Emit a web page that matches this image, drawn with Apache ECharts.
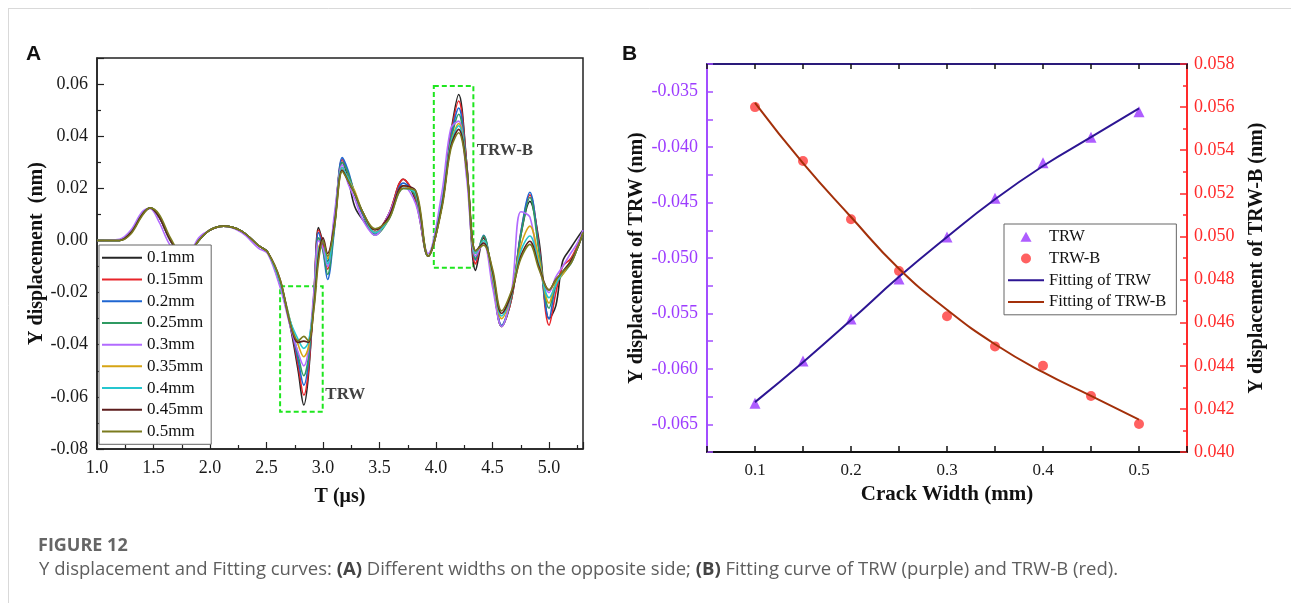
<!DOCTYPE html>
<html>
<head>
<meta charset="utf-8">
<script src="https://cdn.jsdelivr.net/npm/echarts@6/dist/echarts.min.js"></script>
<style>
  html, body { margin: 0; padding: 0; background: #fff; }
  #main { width: 1291px; height: 603px; }
</style>
</head>
<body>
<div id="main"></div>
<script>
// ------------------------------------------------------
// Data, panel A (Y displacement vs time, one curve per crack width)
// ------------------------------------------------------
var widthNames = ['0.1mm', '0.15mm', '0.2mm', '0.25mm', '0.3mm', '0.35mm', '0.4mm', '0.45mm', '0.5mm']
var widthColors = ['#262626', '#e8242a', '#1f66d1', '#2f9a62', '#b26bff', '#d6a414', '#25c6cf', '#5c1c1c', '#7b7b1e']

var T = [1.0, 1.2, 1.3, 1.4, 1.47, 1.55, 1.65, 1.78, 1.9, 2.0, 2.12, 2.28, 2.43, 2.51, 2.62, 2.71, 2.78, 2.83, 2.87, 2.92,
  2.96, 3.0, 3.04, 3.1, 3.17, 3.22, 3.28, 3.35, 3.46, 3.58, 3.71, 3.82, 3.93, 4.05, 4.13, 4.2, 4.27, 4.35, 4.42, 4.5,
  4.58, 4.67, 4.75, 4.83, 4.91, 5.0, 5.06, 5.12, 5.19, 5.25, 5.3]

var w010 = [0, 0, 0.003, 0.010, 0.0125, 0.009, 0.000, -0.007, 0.000, 0.004, 0.0055, 0.0036, -0.002, -0.0045, -0.017, -0.033, -0.050, -0.0631, -0.052, -0.020,
  0.005, -0.001, -0.008, 0.008, 0.030, 0.024, 0.013, 0.008, 0.003, 0.010, 0.0235, 0.015, -0.006, 0.014, 0.041, 0.0560, 0.030, -0.0115, 0.001, -0.015,
  -0.033, -0.022, 0.002, 0.015, 0.000, -0.030, -0.025, -0.008, -0.003, 0.001, 0.004]
var w015 = [0, 0, 0.003, 0.010, 0.0125, 0.009, 0.000, -0.007, 0.000, 0.004, 0.0055, 0.0036, -0.002, -0.0045, -0.017, -0.032, -0.048, -0.0593, -0.050, -0.021,
  0.004, -0.002, -0.011, 0.006, 0.031, 0.026, 0.018, 0.010, 0.003, 0.010, 0.0235, 0.016, -0.006, 0.013, 0.040, 0.0535, 0.030, -0.009, 0.0015, -0.015,
  -0.033, -0.022, 0.003, 0.0175, -0.002, -0.0325, -0.020, -0.010, -0.007, -0.002, 0.003]
var w020 = [0, 0, 0.003, 0.010, 0.0125, 0.009, 0.000, -0.007, 0.000, 0.004, 0.0055, 0.0036, -0.002, -0.0045, -0.017, -0.032, -0.046, -0.0555, -0.047, -0.021,
  0.003, -0.004, -0.015, 0.004, 0.0318, 0.027, 0.018, 0.010, 0.0025, 0.009, 0.022, 0.017, -0.006, 0.013, 0.039, 0.0508, 0.029, -0.0075, 0.002, -0.015,
  -0.0325, -0.021, 0.003, 0.0185, -0.003, -0.030, -0.017, -0.012, -0.009, -0.003, 0.003]
var w025 = [0, 0, 0.003, 0.010, 0.0125, 0.0095, 0.000, -0.007, 0.000, 0.004, 0.0055, 0.0036, -0.002, -0.0045, -0.016, -0.031, -0.044, -0.0519, -0.045, -0.022,
  0.001, -0.004, -0.013, 0.005, 0.030, 0.026, 0.018, 0.011, 0.002, 0.008, 0.021, 0.017, -0.006, 0.013, 0.038, 0.0484, 0.028, -0.007, 0.0018, -0.015,
  -0.033, -0.021, 0.002, 0.0165, -0.004, -0.026, -0.017, -0.013, -0.009, -0.003, 0.003]
var w030 = [0, 0.0005, 0.004, 0.011, 0.0122, 0.007, -0.002, -0.007, 0.001, 0.004, 0.0055, 0.003, -0.003, -0.005, -0.018, -0.033, -0.043, -0.0481, -0.042, -0.019,
  0.000, -0.003, -0.010, 0.010, 0.029, 0.022, 0.016, 0.008, 0.002, 0.010, 0.021, 0.014, -0.005, 0.018, 0.043, 0.0458, 0.024, -0.006, -0.001, -0.018,
  -0.033, -0.019, 0.011, 0.009, -0.010, -0.020, -0.014, -0.010, -0.005, -0.001, 0.004]
var w035 = [0, 0, 0.003, 0.010, 0.0125, 0.009, 0.000, -0.007, 0.000, 0.004, 0.0055, 0.0036, -0.002, -0.0045, -0.016, -0.031, -0.040, -0.0446, -0.041, -0.023,
  -0.003, 0.000, -0.007, 0.006, 0.028, 0.024, 0.019, 0.011, 0.003, 0.008, 0.021, 0.018, -0.006, 0.013, 0.037, 0.0449, 0.028, -0.005, 0.000, -0.014,
  -0.030, -0.020, -0.002, 0.0055, -0.007, -0.024, -0.016, -0.013, -0.008, -0.003, 0.003]
var w040 = [0, 0, 0.003, 0.010, 0.0125, 0.009, 0.000, -0.007, 0.000, 0.004, 0.0055, 0.0036, -0.002, -0.0045, -0.016, -0.031, -0.038, -0.0414, -0.039, -0.024,
  -0.004, 0.000, -0.009, 0.006, 0.028, 0.024, 0.018, 0.011, 0.003, 0.008, 0.020, 0.018, -0.006, 0.014, 0.037, 0.0440, 0.028, -0.005, 0.000, -0.013,
  -0.029, -0.020, -0.004, 0.0017, -0.009, -0.022, -0.017, -0.012, -0.008, -0.003, 0.003]
var w045 = [0, 0, 0.003, 0.010, 0.0125, 0.009, 0.000, -0.007, 0.000, 0.004, 0.0055, 0.0036, -0.002, -0.0045, -0.015, -0.032, -0.0391, -0.0386, -0.0391, -0.025,
  -0.006, 0.001, -0.005, 0.006, 0.027, 0.023, 0.018, 0.011, 0.004, 0.009, 0.021, 0.019, -0.006, 0.013, 0.036, 0.0426, 0.028, -0.004, -0.001, -0.012,
  -0.028, -0.020, -0.006, -0.0003, -0.010, -0.019, -0.015, -0.012, -0.008, -0.003, 0.003]
var w050 = [0, 0, 0.0025, 0.0095, 0.0125, 0.010, 0.001, -0.007, 0.000, 0.004, 0.0055, 0.0036, -0.002, -0.0045, -0.015, -0.032, -0.0385, -0.0368, -0.0385, -0.026,
  -0.008, 0.000, -0.006, 0.005, 0.0265, 0.023, 0.018, 0.011, 0.0045, 0.008, 0.020, 0.019, -0.006, 0.012, 0.035, 0.0413, 0.027, -0.004, -0.0018, -0.011,
  -0.027, -0.019, -0.007, -0.0015, -0.011, -0.019, -0.015, -0.012, -0.009, -0.003, 0.003]
var widthValues = [w010, w015, w020, w025, w030, w035, w040, w045, w050]

// dashed boxes and their labels: [t, y] corners
var boxTRW = [[2.62, -0.0176], [2.997, -0.0657]]
var boxTRWB = [[3.98, 0.0593], [4.33, -0.0105]]
var notes = [[3.02, -0.0590, 'TRW'], [4.36, 0.0343, 'TRW-B']]

// ------------------------------------------------------
// Data, panel B (peak values vs crack width)
// ------------------------------------------------------
var crackWidth = [0.1, 0.15, 0.2, 0.25, 0.3, 0.35, 0.4, 0.45, 0.5]
var trw = [-0.0631, -0.0593, -0.0555, -0.0519, -0.0481, -0.0446, -0.0414, -0.0391, -0.0368]
var trwB = [0.0560, 0.0535, 0.0508, 0.0484, 0.0463, 0.0449, 0.0440, 0.0426, 0.0413]
var fitTRW = [-0.0630, -0.0594, -0.0556, -0.0517, -0.0481, -0.0447, -0.0417, -0.0391, -0.0365]
var fitTRWB = [0.0562, 0.0534, 0.0509, 0.0485, 0.0466, 0.0450, 0.0437, 0.0426, 0.0415]

// ------------------------------------------------------
// Helpers
// ------------------------------------------------------
var serif = 'Liberation Serif'
var lineIconA = 'path://M0,0 L40,0 L40,2 L0,2 Z'
var lineIconB = 'path://M0,0 L36,0 L36,2 L0,2 Z'
var triIcon = 'path://M5,0 L10,9 L0,9 Z'

function pairs(xs, ys) {
  return xs.map(function (x, i) { return [x, ys[i]] })
}

function onStep(v, step) {
  var k = v / step
  return Math.abs(k - Math.round(k)) < 1e-6
}

// ------------------------------------------------------
// Series
// ------------------------------------------------------
var series = []

for (var i = 0; i < widthNames.length; i++) {
  series.push({
    name: widthNames[i],
    type: 'line',
    xAxisIndex: 0,
    yAxisIndex: 0,
    data: pairs(T, widthValues[i]),
    smooth: 0.35,
    symbol: 'none',
    showSymbol: false,
    color: widthColors[i],
    lineStyle: { width: 1.6, color: widthColors[i] },
    z: 3
  })
}

// green dashed boxes
series.push({
  name: 'boxes',
  type: 'line',
  xAxisIndex: 0,
  yAxisIndex: 0,
  data: [],
  silent: true,
  markArea: {
    silent: true,
    itemStyle: { color: 'rgba(0,0,0,0)', borderColor: '#1ee61e', borderWidth: 2, borderType: [5, 3] },
    label: { show: false },
    data: [
      [{ coord: boxTRW[0] }, { coord: boxTRW[1] }],
      [{ coord: boxTRWB[0] }, { coord: boxTRWB[1] }]
    ]
  }
})

series.push({
  name: 'notes',
  type: 'scatter',
  xAxisIndex: 0,
  yAxisIndex: 0,
  data: notes,
  symbolSize: 0,
  silent: true,
  label: {
    show: true,
    position: 'right',
    distance: 0,
    formatter: function (p) { return p.value[2] },
    fontFamily: serif,
    fontWeight: 'bold',
    fontSize: 17,
    color: '#111'
  }
})

series.push({
  name: 'TRW',
  type: 'scatter',
  xAxisIndex: 1,
  yAxisIndex: 1,
  data: pairs(crackWidth, trw),
  symbol: 'triangle',
  symbolSize: 11,
  color: '#9a34ff',
  itemStyle: { color: '#9a34ff' }
})
series.push({
  name: 'TRW-B',
  type: 'scatter',
  xAxisIndex: 1,
  yAxisIndex: 2,
  data: pairs(crackWidth, trwB),
  symbol: 'circle',
  symbolSize: 10,
  color: '#ff3a3a',
  itemStyle: { color: '#ff3a3a' }
})
series.push({
  name: 'Fitting of TRW',
  type: 'line',
  xAxisIndex: 1,
  yAxisIndex: 1,
  data: pairs(crackWidth, fitTRW),
  smooth: true,
  symbol: 'none',
  showSymbol: false,
  color: '#2c1593',
  lineStyle: { width: 2, color: '#2c1593' }
})
series.push({
  name: 'Fitting of TRW-B',
  type: 'line',
  xAxisIndex: 1,
  yAxisIndex: 2,
  data: pairs(crackWidth, fitTRWB),
  smooth: true,
  symbol: 'none',
  showSymbol: false,
  color: '#a3300a',
  lineStyle: { width: 2, color: '#a3300a' }
})

// ------------------------------------------------------
// Options
// ------------------------------------------------------
var tickLabel = { fontFamily: serif, fontSize: 18, color: '#1a1a1a' }
var axisName = { fontFamily: serif, fontSize: 20, fontWeight: 'bold', color: '#111' }

var option = {
  backgroundColor: '#fff',
  animation: false,
  grid: [
    { left: 97, top: 58, width: 486, height: 391, show: true, borderColor: '#222', borderWidth: 1.5, backgroundColor: 'rgba(0,0,0,0)', containLabel: false },
    { left: 707, top: 64, width: 480, height: 388, show: false, containLabel: false }
  ],
  xAxis: [
    {
      gridIndex: 0, type: 'value', min: 1.0, max: 5.3, interval: 0.5,
      axisLine: { show: true, onZero: false, lineStyle: { color: '#222', width: 1.5 } },
      axisTick: { show: true, inside: true, length: 7, lineStyle: { color: '#222', width: 1.2 } },
      minorTick: { show: true, splitNumber: 2, length: 4, lineStyle: { color: '#222', width: 1.2 } },
      splitLine: { show: false }, minorSplitLine: { show: false },
      axisLabel: Object.assign({ margin: 10, showMaxLabel: false, formatter: function (v) { return v.toFixed(1) } }, tickLabel),
      name: 'T (μs)', nameLocation: 'middle', nameGap: 38, nameTextStyle: axisName
    },
    {
      gridIndex: 1, type: 'value', min: 0.05, max: 0.55, interval: 0.05, position: 'bottom',
      axisLine: { show: true, onZero: false, lineStyle: { color: '#111', width: 2 } },
      axisTick: { show: true, inside: true, length: 6, lineStyle: { color: '#111', width: 1.5 } },
      splitLine: { show: false },
      axisLabel: Object.assign({ margin: 10, formatter: function (v) { return onStep(v, 0.1) ? v.toFixed(1) : '' } }, tickLabel, { fontSize: 17 }),
      name: 'Crack Width (mm)', nameLocation: 'middle', nameGap: 32,
      nameTextStyle: Object.assign({}, axisName, { fontSize: 21 })
    },
    {
      gridIndex: 1, type: 'value', min: 0.05, max: 0.55, interval: 0.05, position: 'top',
      axisLine: { show: true, onZero: false, lineStyle: { color: '#2a1a7a', width: 2 } },
      axisTick: { show: true, inside: true, length: 5, lineStyle: { color: '#111', width: 1.5 } },
      splitLine: { show: false },
      axisLabel: { show: false }
    }
  ],
  yAxis: [
    {
      gridIndex: 0, type: 'value', min: -0.08, max: 0.07, interval: 0.02,
      axisLine: { show: true, onZero: false, lineStyle: { color: '#222', width: 1.5 } },
      axisTick: { show: true, inside: true, length: 7, lineStyle: { color: '#222', width: 1.2 } },
      minorTick: { show: true, splitNumber: 2, length: 4, lineStyle: { color: '#222', width: 1.2 } },
      splitLine: { show: false }, minorSplitLine: { show: false },
      axisLabel: Object.assign({ margin: 9, showMaxLabel: false, formatter: function (v) { return v.toFixed(2) } }, tickLabel),
      name: 'Y displacement  (nm)', nameLocation: 'middle', nameGap: 45, nameTextStyle: axisName
    },
    {
      gridIndex: 1, type: 'value', min: -0.0675, max: -0.0325, interval: 0.0025, position: 'left',
      axisLine: { show: true, onZero: false, lineStyle: { color: '#a24dff', width: 2 } },
      axisTick: { show: true, inside: true, length: 6, lineStyle: { color: '#a24dff', width: 1.5 } },
      splitLine: { show: false },
      axisLabel: Object.assign({}, tickLabel, { color: '#9d3cff', margin: 9, formatter: function (v) { return onStep(v, 0.005) ? v.toFixed(3) : '' } }),
      name: 'Y displacement of TRW (nm)', nameLocation: 'middle', nameGap: 60, nameTextStyle: axisName
    },
    {
      gridIndex: 1, type: 'value', min: 0.040, max: 0.058, interval: 0.002, position: 'right',
      axisLine: { show: true, onZero: false, lineStyle: { color: '#ff2a2a', width: 2 } },
      axisTick: { show: true, inside: true, length: 7, lineStyle: { color: '#ff2a2a', width: 1.5 } },
      minorTick: { show: true, splitNumber: 2, length: 4, lineStyle: { color: '#ff2a2a', width: 1.5 } },
      splitLine: { show: false }, minorSplitLine: { show: false },
      axisLabel: Object.assign({}, tickLabel, { color: '#ff2a2a', margin: 7, formatter: function (v) { return v.toFixed(3) } }),
      name: 'Y displacement of TRW-B (nm)', nameLocation: 'middle', nameGap: 60, nameTextStyle: axisName
    }
  ],
  legend: [
    {
      data: widthNames.map(function (n) { return { name: n, icon: lineIconA } }),
      orient: 'vertical',
      left: 99, top: 245,
      padding: [3, 8, 3, 3],
      itemWidth: 40, itemHeight: 12, itemGap: 2,
      symbolKeepAspect: true,
      backgroundColor: '#fff',
      borderColor: '#666', borderWidth: 1,
      textStyle: { fontFamily: serif, fontSize: 17, color: '#111', lineHeight: 19.7 },
      selectedMode: false
    },
    {
      data: [
        { name: 'TRW', icon: triIcon },
        { name: 'TRW-B', icon: 'circle' },
        { name: 'Fitting of TRW', icon: lineIconB },
        { name: 'Fitting of TRW-B', icon: lineIconB }
      ],
      orient: 'vertical',
      left: 1004, top: 224,
      padding: [4, 10, 4, 4],
      itemWidth: 36, itemHeight: 10, itemGap: 4,
      symbolKeepAspect: true,
      backgroundColor: '#fff',
      borderColor: '#666', borderWidth: 1,
      textStyle: { fontFamily: serif, fontSize: 16.5, color: '#111', lineHeight: 17.7 },
      selectedMode: false
    }
  ],
  graphic: [
    { type: 'line', shape: { x1: 8, y1: 8.5, x2: 1291, y2: 8.5 }, style: { stroke: '#d9d9d9', lineWidth: 1 } },
    { type: 'line', shape: { x1: 8.5, y1: 8, x2: 8.5, y2: 603 }, style: { stroke: '#d9d9d9', lineWidth: 1 } },
    { type: 'text', left: 26, top: 44, style: { text: 'A', font: 'bold 21px "Liberation Sans"', fill: '#111' } },
    { type: 'text', left: 622, top: 44, style: { text: 'B', font: 'bold 21px "Liberation Sans"', fill: '#111' } },
    { type: 'text', left: 38, top: 537, style: { text: 'FIGURE 12', font: 'bold 18px "Open Sans"', fill: '#666' } },
    {
      type: 'text', left: 39, top: 560,
      style: {
        text: '{n|Y displacement and Fitting curves: }{b|(A)}{n| Different widths on the opposite side; }{b|(B)}{n| Fitting curve of TRW (purple) and TRW-B (red).}',
        rich: {
          n: { fontFamily: 'Open Sans', fontSize: 18.5, fill: '#5e5e5e' },
          b: { fontFamily: 'Open Sans', fontSize: 18.5, fontWeight: 'bold', fill: '#444' }
        }
      }
    }
  ],
  series: series
}

var chartDom = document.getElementById('main')
var myChart = echarts.init(chartDom, null, { renderer: 'canvas' })
myChart.setOption(option)
</script>
</body>
</html>
